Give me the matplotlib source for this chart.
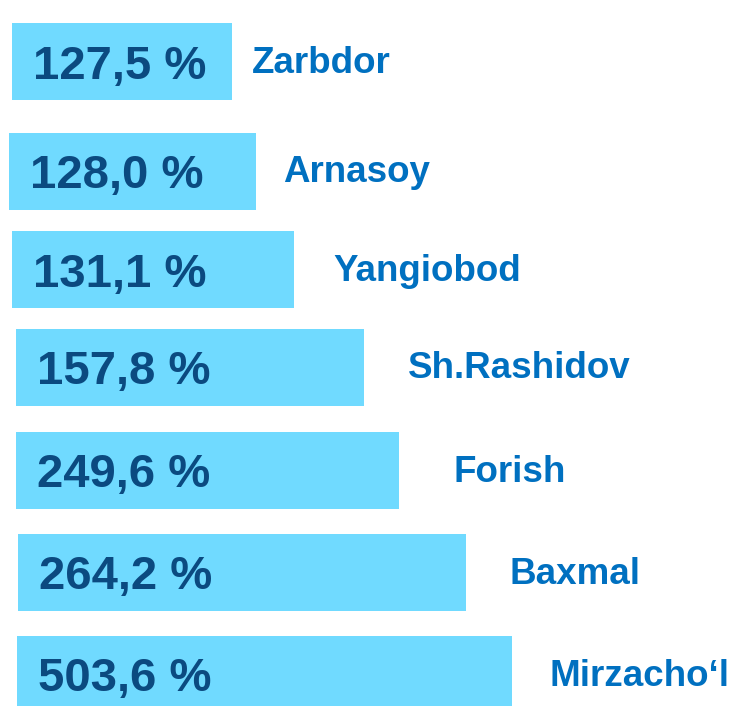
import matplotlib.pyplot as plt

# districts, top to bottom
districts = ["Zarbdor", "Arnasoy", "Yangiobod", "Sh.Rashidov", "Forish", "Baxmal", "Mirzacho\u2018l"]
values = [127.5, 128.0, 131.1, 157.8, 249.6, 264.2, 503.6]
# bar lengths as drawn in the infographic (not proportional to values)
bar_len = [220, 247, 282, 348, 383, 448, 495]

# layout (pixel units)
bar_left = [12, 9, 12, 16, 16, 18, 17]
bar_y = [61.5, 171, 269.5, 367, 470.5, 572.5, 674.5]
label_gap = [20, 27, 39, 44, 54, 44, 37]

bar_color = "#70DAFF"
val_color = "#0B4A80"
lab_color = "#0070C0"

fig = plt.figure(figsize=(7.43, 7.06), dpi=100)
ax = fig.add_axes([0, 0, 1, 1])
ax.set_xlim(0, 743)
ax.set_ylim(706, 0)
ax.axis("off")

ax.barh(bar_y, bar_len, left=bar_left, height=77, color=bar_color)

for i in range(len(districts)):
    txt = f"{values[i]:.1f}".replace(".", ",") + " %"
    ax.text(bar_left[i] + 21, bar_y[i] + 5, txt, fontsize=34, fontweight="bold",
            color=val_color, family="Liberation Sans", va="center", ha="left")
    ax.text(bar_left[i] + bar_len[i] + label_gap[i], bar_y[i] + 2, districts[i],
            fontsize=26.5, fontweight="bold", color=lab_color,
            family="Liberation Sans", va="center", ha="left")

fig.savefig("out.png", dpi=100)
